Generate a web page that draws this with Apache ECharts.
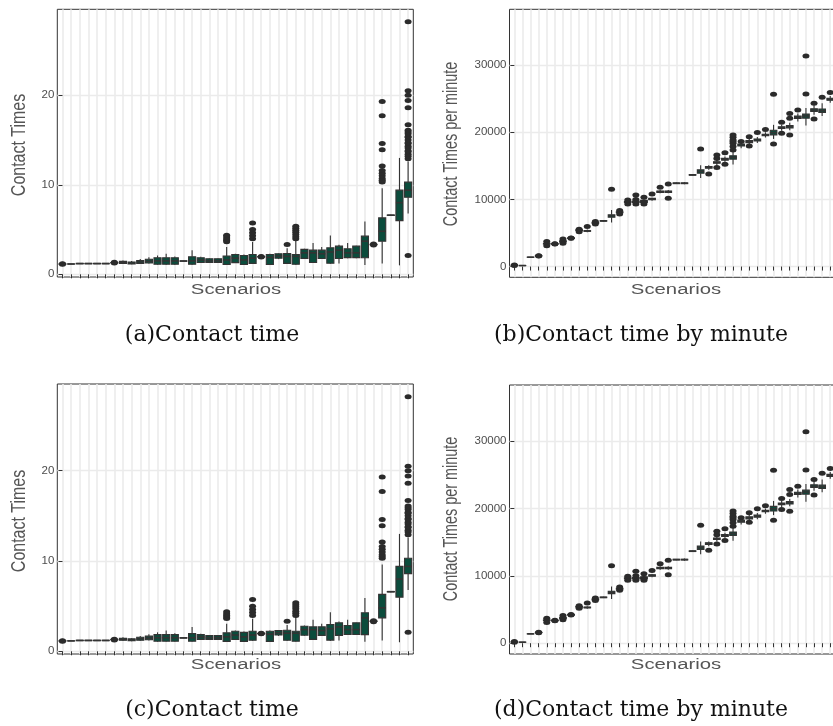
<!DOCTYPE html>
<html>
<head>
<meta charset="utf-8">
<script src="https://cdn.jsdelivr.net/npm/echarts@6/dist/echarts.min.js"></script>
<style>
  html, body { margin: 0; padding: 0; background: #fff; }
  #main { width: 833px; height: 726px; }
</style>
</head>
<body>
<div id="main"></div>
<script>
// contact times per scenario: [lower whisker, q1, median, q3, upper whisker]
var timeStats = [
  [1.12, 1.14, 1.15, 1.16, 1.18], [1.14, 1.15, 1.15, 1.16, 1.17], [1.15, 1.18, 1.2, 1.22, 1.25],
  [1.16, 1.18, 1.2, 1.22, 1.24], [1.16, 1.18, 1.2, 1.22, 1.24], [1.16, 1.18, 1.2, 1.22, 1.24],
  [1.26, 1.28, 1.3, 1.31, 1.33], [1.15, 1.22, 1.32, 1.45, 1.55], [1.12, 1.16, 1.26, 1.38, 1.48],
  [1.15, 1.22, 1.38, 1.55, 1.7], [1.2, 1.27, 1.45, 1.68, 1.9], [1.05, 1.12, 1.5, 1.85, 2.1],
  [1.05, 1.12, 1.5, 1.85, 2.3], [1.05, 1.12, 1.5, 1.85, 2.0], [1.45, 1.47, 1.48, 1.5, 1.52],
  [1.05, 1.12, 1.5, 1.96, 2.7], [1.25, 1.32, 1.6, 1.85, 1.95], [1.25, 1.32, 1.5, 1.74, 1.8],
  [1.25, 1.32, 1.5, 1.74, 1.8], [1.05, 1.1, 1.6, 2.04, 3.04], [1.25, 1.3, 1.8, 2.22, 2.3],
  [1.05, 1.1, 1.6, 2.1, 2.2], [1.15, 1.22, 1.8, 2.22, 3.6], [1.93, 1.95, 1.96, 1.97, 1.99],
  [1.05, 1.1, 1.9, 2.22, 2.3], [1.7, 1.8, 2.05, 2.3, 2.35], [1.15, 1.22, 2.0, 2.33, 2.9],
  [1.05, 1.12, 2.0, 2.22, 3.8], [1.7, 1.78, 2.4, 2.78, 2.85], [1.25, 1.32, 2.4, 2.7, 3.5],
  [1.7, 1.76, 2.3, 2.7, 3.04], [1.15, 1.24, 2.5, 2.96, 4.33], [1.2, 1.76, 2.7, 3.15, 3.3],
  [1.8, 1.86, 2.4, 2.85, 3.5], [1.8, 1.86, 2.4, 3.15, 3.2], [1.05, 1.85, 3.7, 4.26, 5.9],
  [3.28, 3.3, 3.33, 3.35, 3.38], [1.2, 3.7, 4.81, 6.3, 9.6], [6.55, 6.58, 6.6, 6.62, 6.65],
  [1.0, 6.0, 8.0, 9.4, 13.0], [6.8, 8.6, 9.4, 10.3, 12.6]
];
var timeOutliers = [
  [1.12, 1.18], [], [], [], [], [], [1.26, 1.34], [], [], [], [], [], [], [], [], [], [], [], [],
  [3.63, 3.8, 3.96, 4.17, 4.37], [], [], [3.96, 4.3, 4.63, 5.0, 5.74], [1.93, 2.0], [], [],
  [3.33], [3.96, 4.2, 4.44, 4.7, 4.93, 5.15, 5.37], [], [], [], [], [], [], [], [],
  [3.28, 3.38],
  [10.3, 10.5, 10.7, 11.0, 11.3, 11.6, 12.1, 13.9, 14.6, 17.7, 19.3],
  [], [],
  [2.1, 12.9, 13.2, 13.4, 13.7, 13.8, 14.1, 14.3, 14.6, 14.7, 15.0, 15.3, 15.4, 15.7, 15.9,
   16.1, 16.7, 18.6, 19.4, 20.0, 20.5, 28.2]
];

// contact times per minute
var minuteStats = [
  [180, 190, 200, 210, 220], [140, 145, 150, 155, 160], [1370, 1380, 1390, 1400, 1410],
  [1560, 1580, 1590, 1600, 1620], [3250, 3350, 3400, 3450, 3550], [3330, 3350, 3370, 3390, 3410],
  [3550, 3650, 3750, 3850, 3950], [4150, 4180, 4220, 4260, 4290], [5300, 5350, 5400, 5450, 5500],
  [5100, 5250, 5300, 5350, 5500], [6400, 6450, 6500, 6560, 6620], [6700, 6760, 6800, 6840, 6900],
  [6550, 7350, 7540, 7700, 8430], [7950, 8020, 8080, 8150, 8250], [9450, 9550, 9620, 9700, 9800],
  [9450, 9550, 9650, 9750, 9850], [9450, 9550, 9700, 9850, 10000], [9800, 9950, 10050, 10150, 10250],
  [10900, 11050, 11150, 11250, 11400], [10900, 11050, 11150, 11250, 11400], [12300, 12350, 12400, 12450, 12500],
  [12250, 12350, 12400, 12450, 12550], [13550, 13600, 13650, 13700, 13750], [13200, 13900, 14150, 14400, 15100],
  [14400, 14650, 14780, 14900, 15100], [15100, 15400, 15500, 15600, 15900], [15600, 15850, 15970, 16100, 16400],
  [15200, 16000, 16270, 16500, 17100], [17600, 17950, 18100, 18250, 18500], [18200, 18450, 18600, 18750, 19000],
  [18400, 18700, 18850, 19000, 19300], [19200, 19500, 19600, 19700, 20000], [19000, 19600, 19940, 20300, 21100],
  [20200, 20550, 20680, 20800, 21100], [20300, 20650, 20830, 21000, 21400], [21600, 22050, 22220, 22400, 22800],
  [21000, 22100, 22420, 22700, 23600], [22600, 23100, 23300, 23500, 24000], [22400, 22950, 23200, 23450, 24300],
  [24400, 24750, 24900, 25050, 25400], [25300, 25700, 25900, 26100, 26500]
];
var minuteOutliers = [
  [160, 240], [], [], [1560, 1620], [3080, 3720], [3350, 3400], [3470, 4120], [4200, 4260],
  [5200, 5550], [5950], [6350, 6700], [], [11500], [7840, 8330], [9330, 9920],
  [9330, 9990, 10660], [9330, 9600, 10300], [10800], [11800], [10170, 12300], [], [], [],
  [17500], [13790], [14730, 16100, 16600], [15230, 16960],
  [17360, 17860, 18350, 18600, 18850, 19250, 19600], [18600], [17950, 19340], [19940], [20400],
  [18250, 25640], [19840, 21480], [19590, 22070, 22800], [23300], [25700, 31350],
  [21970, 24300], [25200], [25900], [26800]
];

var timeTicks = [0, 10, 20];
var minuteTicks = [0, 10000, 20000, 30000];
var captions = ['(a)Contact time', '(b)Contact time by minute', '(c)Contact time', '(d)Contact time by minute'];

var scenarioTicks = timeStats.map(function (s, i) { return i; });

var panels = [
  { left: 57.3, top: 9.3, width: 356, height: 267.7, min: -0.3, max: 29.6, step: 5,
    stats: timeStats, out: timeOutliers, ticks: timeTicks, yName: 'Contact Times', nameScale: 1.14,
    yNameX: 19.5, yNameY: 145, xNameX: 236, xNameY: 290.5, capX: 212, capY: 335, caption: captions[0] },
  { left: 509.5, top: 9.3, width: 333.7, height: 268, min: -1600, max: 38300, step: 5000,
    stats: minuteStats, out: minuteOutliers, ticks: minuteTicks, yName: 'Contact Times per minute', nameScale: 1.03,
    yNameX: 451.7, yNameY: 144, xNameX: 676, xNameY: 290.5, capX: 641, capY: 335, caption: captions[1] },
  { left: 57.3, top: 384, width: 356, height: 270, min: -0.3, max: 29.6, step: 5,
    stats: timeStats, out: timeOutliers, ticks: timeTicks, yName: 'Contact Times', nameScale: 1.14,
    yNameX: 19.5, yNameY: 521, xNameX: 236, xNameY: 665.5, capX: 212, capY: 710, caption: captions[2] },
  { left: 509.5, top: 385, width: 333.7, height: 269, min: -1600, max: 38300, step: 5000,
    stats: minuteStats, out: minuteOutliers, ticks: minuteTicks, yName: 'Contact Times per minute', nameScale: 1.03,
    yNameX: 451.7, yNameY: 519, xNameX: 676, xNameY: 665.5, capX: 641, capY: 710, caption: captions[3] }
];

function renderBox(params, api) {
  var x = api.value(0);
  var p = [1, 2, 3, 4, 5].map(function (d) { return api.coord([x, api.value(d)]); });
  var half = api.size([0.82, 0])[0] / 2;
  var cx = p[0][0];
  var ink = '#333333';
  return {
    type: 'group',
    children: [
      { type: 'line', shape: { x1: cx, y1: p[0][1], x2: cx, y2: p[1][1] }, style: { stroke: ink, lineWidth: 1.1 } },
      { type: 'line', shape: { x1: cx, y1: p[3][1], x2: cx, y2: p[4][1] }, style: { stroke: ink, lineWidth: 1.1 } },
      { type: 'rect', shape: { x: cx - half, y: p[3][1], width: half * 2, height: p[1][1] - p[3][1] },
        style: { fill: '#0b4c3c', stroke: ink, lineWidth: 1.1 } },
      { type: 'line', shape: { x1: cx - half, y1: p[2][1], x2: cx + half, y2: p[2][1] }, style: { stroke: ink, lineWidth: 1.6 } }
    ]
  };
}

var grids = [], xAxes = [], yAxes = [], series = [], graphics = [];

panels.forEach(function (pn, k) {
  // the right-hand panels run past the page edge, as in the cropped original
  grids.push({ left: pn.left, top: pn.top, width: pn.width, height: pn.height, outerBoundsMode: 'none',
    show: true, borderColor: '#333', borderWidth: 1, backgroundColor: '#fff' });
  xAxes.push({
    type: 'value', gridIndex: k, min: -0.6, max: 40.6, minInterval: 1, maxInterval: 1,
    axisLine: { show: false },
    axisTick: { show: true, customValues: scenarioTicks, length: 4, lineStyle: { color: '#333' } },
    axisLabel: { show: false },
    splitLine: { show: true, lineStyle: { color: '#ebebeb', width: 1.6 } }
  });
  yAxes.push({
    type: 'value', gridIndex: k, min: pn.min, max: pn.max, minInterval: pn.step, maxInterval: pn.step,
    axisLine: { show: false },
    axisTick: { show: true, customValues: pn.ticks, length: 4, lineStyle: { color: '#333' } },
    axisLabel: { customValues: pn.ticks, color: '#4d4d4d', fontSize: 11.5, margin: 3, fontFamily: 'Liberation Sans',
      formatter: function (v) { return String(v); } },
    splitLine: { show: true, lineStyle: { color: '#ebebeb', width: 1.3 } }
  });

  var boxes = pn.stats.map(function (s, i) { return [i].concat(s); });
  var dots = [];
  pn.out.forEach(function (list, i) {
    list.forEach(function (v) { dots.push([i, v]); });
  });

  series.push({
    type: 'custom', xAxisIndex: k, yAxisIndex: k, renderItem: renderBox,
    data: boxes, encode: { x: 0, y: [1, 2, 3, 4, 5] }, z: 3, silent: true
  });
  series.push({
    type: 'scatter', xAxisIndex: k, yAxisIndex: k, data: dots,
    symbol: 'circle', symbolSize: [7, 5], itemStyle: { color: '#2b2b2b', opacity: 1 }, z: 4, silent: true
  });

  graphics.push({
    type: 'text', x: pn.yNameX, y: pn.yNameY, rotation: Math.PI / 2, scaleX: pn.nameScale, scaleY: 1.45,
    style: { text: pn.yName, fontSize: 14, fontFamily: 'Liberation Sans', fill: '#555', align: 'center', verticalAlign: 'middle' }
  });
  graphics.push({
    type: 'text', x: pn.xNameX, y: pn.xNameY, scaleX: 1.45,
    style: { text: 'Scenarios', fontSize: 14, fontFamily: 'Liberation Sans', fill: '#555', align: 'center', verticalAlign: 'middle' }
  });
  graphics.push({
    type: 'text', x: pn.capX, y: pn.capY,
    style: { text: pn.caption, fontSize: 22, fontFamily: 'DejaVu Serif', fill: '#111', align: 'center', verticalAlign: 'middle' }
  });
});

var myChart = echarts.init(document.getElementById('main'));
myChart.setOption({
  animation: false,
  grid: grids,
  xAxis: xAxes,
  yAxis: yAxes,
  series: series,
  graphic: graphics
});
</script>
</body>
</html>
